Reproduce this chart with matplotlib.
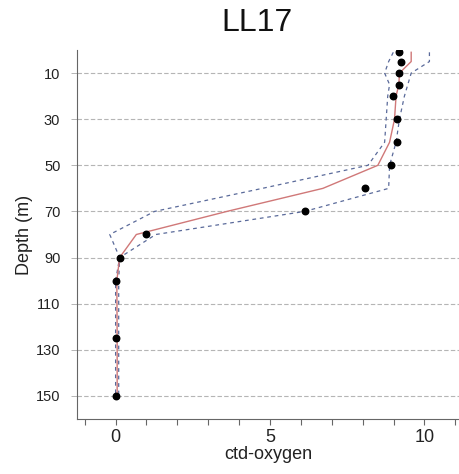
import matplotlib
matplotlib.use("Agg")
import matplotlib.pyplot as plt
import numpy as np

plt.rcParams['font.family'] = ['Liberation Sans', 'DejaVu Sans']

# Observations
obs_depth = [1, 5, 10, 15, 20, 30, 40, 50, 60, 70, 80, 90, 100, 125, 150]
obs_oxygen = [9.17, 9.23, 9.19, 9.19, 8.97, 9.10, 9.10, 8.92, 8.09, 6.12, 1.00, 0.13, 0.0, 0.0, 0.0]

# Fitted profile and bounds
fit_depth = [1, 5, 10, 15, 20, 30, 40, 50, 60, 70, 80, 90, 100, 125, 150]
fit_mean = [9.57, 9.57, 9.19, 9.17, 9.08, 9.03, 8.87, 8.49, 6.71, 3.60, 0.67, 0.13, 0.04, 0.05, 0.05]
fit_lower = [8.99, 8.84, 8.71, 8.87, 8.81, 8.76, 8.71, 8.17, 4.75, 1.26, -0.19, 0.13, 0.0, 0.0, 0.0]
fit_upper = [10.16, 10.16, 9.57, 9.46, 9.35, 9.19, 9.08, 8.87, 8.84, 6.12, 1.30, 0.13, 0.10, 0.10, 0.10]

ytick_vals = [10, 30, 50, 70, 90, 110, 130, 150]
xtick_major = [0, 5, 10]

W, H = 460, 474
fig = plt.figure(figsize=(W / 100, H / 100), dpi=100)
ax = fig.add_axes([77 / W, 1 - 419 / H, (460 - 77) / W, (419 - 50) / H])

ax.plot(fit_lower, fit_depth, color='#5a6a9a', lw=0.9, ls=(0, (3, 3)))
ax.plot(fit_upper, fit_depth, color='#5a6a9a', lw=0.9, ls=(0, (3, 3)))
ax.plot(fit_mean, fit_depth, color='#d07878', lw=1.0)
ax.scatter(obs_oxygen, obs_depth, s=22, color='black', zorder=5)

ax.set_ylim(160, 0)
ax.set_xlim(-1.25, 11.15)
ax.set_yticks(ytick_vals)
ax.set_yticklabels([str(v) for v in ytick_vals], fontsize=10.5, color='#222222')
ax.set_xticks(xtick_major)
ax.set_xticklabels([str(v) for v in xtick_major], fontsize=13, color='#222222')
ax.set_xticks(np.arange(-1, 12, 1), minor=True)
ax.tick_params(axis='x', which='both', direction='out', length=4, color='#666666', width=0.8)
ax.tick_params(axis='y', which='both', length=4, color='#aaaaaa', width=0.6, pad=8)
ax.grid(axis='y', color='#b5b5b5', ls=(0, (4, 2)), lw=0.8)
ax.set_axisbelow(True)

for s in ['top', 'right']:
    ax.spines[s].set_visible(False)
for s in ['left', 'bottom']:
    ax.spines[s].set_color('#666666')
    ax.spines[s].set_linewidth(0.8)

ax.set_xlabel('ctd-oxygen', fontsize=13, color='#222222', labelpad=0)
ax.set_ylabel('Depth (m)', fontsize=13, color='#222222', labelpad=2)

fig.text(257 / W, 1 - 23 / H, 'LL17', fontsize=23, ha='center', va='center', color='#111111')

fig.savefig('out.png', dpi=100)
